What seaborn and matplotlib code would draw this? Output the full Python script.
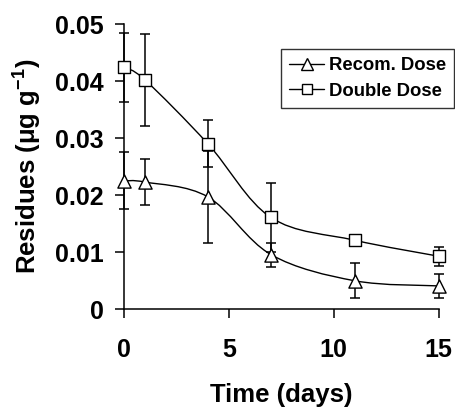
import numpy as np
import pandas as pd
import matplotlib
matplotlib.use("Agg")
import matplotlib.pyplot as plt
from matplotlib.path import Path
from matplotlib.patches import PathPatch
from matplotlib.lines import Line2D
import seaborn as sns

# ---- data ----
days = [0, 1, 4, 7, 11, 15]
recom_values = [0.0225, 0.0223, 0.0197, 0.0096, 0.0050, 0.0041]
recom_err = [0.0050, 0.0041, 0.0080, 0.0021, 0.0031, 0.0021]
double_values = [0.0424, 0.0402, 0.0290, 0.0161, 0.0121, 0.0093]
double_err = [0.0061, 0.0081, 0.0041, 0.0060, 0.0000, 0.0017]
series_names = ["Recom. Dose", "Double Dose"]
x_ticks = [0, 5, 10, 15]
y_ticks = [0, 0.01, 0.02, 0.03, 0.04, 0.05]
y_tick_labels = ["0", "0.01", "0.02", "0.03", "0.04", "0.05"]

sns.set_style("ticks")
plt.rcParams["font.family"] = ["Liberation Sans", "DejaVu Sans"]
plt.rcParams["font.weight"] = "bold"
plt.rcParams["text.color"] = "black"
plt.rcParams["axes.labelcolor"] = "black"
plt.rcParams["mathtext.fontset"] = "custom"
plt.rcParams["mathtext.rm"] = "Liberation Sans:bold"
plt.rcParams["mathtext.it"] = "Liberation Sans:bold"
plt.rcParams["mathtext.bf"] = "Liberation Sans:bold"

fig = plt.figure(figsize=(4.56, 4.09), dpi=100)
W, H = 456, 409
ax = fig.add_axes([124 / W, 1 - 309.3 / H, (438.7 - 124) / W, (309.3 - 24) / H])

df = pd.DataFrame({
    "day": days * 2,
    "value": recom_values + double_values,
    "err": recom_err + double_err,
    "series": [series_names[0]] * len(days) + [series_names[1]] * len(days),
})

markers = {series_names[0]: "^", series_names[1]: "s"}
msize = {series_names[0]: 9.5, series_names[1]: 8.0}


def smooth_path(xs, ys):
    pts = np.column_stack([xs, ys]).astype(float)
    verts = [pts[0]]
    codes = [Path.MOVETO]
    n = len(pts)
    for i in range(n - 1):
        p0 = pts[i - 1] if i > 0 else pts[i]
        p1 = pts[i]
        p2 = pts[i + 1]
        p3 = pts[i + 2] if i + 2 < n else pts[i + 1]
        c1 = p1 + (p2 - p0) / 6.0
        c2 = p2 - (p3 - p1) / 6.0
        verts += [c1, c2, p2]
        codes += [Path.CURVE4] * 3
    return Path(verts, codes)


for name in series_names:
    sub = df[df["series"] == name]
    patch = PathPatch(smooth_path(sub["day"], sub["value"]), facecolor="none",
                      edgecolor="black", lw=1.0, transform=ax.transData,
                      clip_on=False, zorder=2)
    ax.add_patch(patch)
    mask = sub["err"] > 0
    ax.errorbar(sub["day"][mask], sub["value"][mask], yerr=sub["err"][mask],
                fmt="none", ecolor="black", elinewidth=1.1, capsize=3.3,
                capthick=1.1, clip_on=False, zorder=3)

for name in series_names:
    sub = df[df["series"] == name]
    sns.scatterplot(data=sub, x="day", y="value", marker=markers[name],
                    s=msize[name] ** 2, color="white", edgecolor="black",
                    linewidth=1.0, ax=ax, clip_on=False, zorder=4, legend=False)

ax.set_xlim(0, 15)
ax.set_ylim(0, 0.05)
ax.set_xticks(x_ticks)
ax.set_xticklabels([str(t) for t in x_ticks])
ax.set_yticks(y_ticks)
ax.set_yticklabels(y_tick_labels)
for s in ["top", "right"]:
    ax.spines[s].set_visible(False)
for s in ["left", "bottom"]:
    ax.spines[s].set_linewidth(1.1)
    ax.spines[s].set_color("black")
ax.tick_params(axis="both", direction="out", length=6.5, width=1.1,
               color="black", labelsize=18, labelcolor="black")
ax.tick_params(axis="x", pad=14)
ax.tick_params(axis="y", pad=8)
ax.set_xlabel("Time (days)", fontsize=18.5, fontweight="bold", labelpad=15.5,
              color="black")
ax.set_ylabel(r"Residues ($\mu$g g$^{-1}$)", fontsize=18.5, fontweight="bold",
              labelpad=8, color="black")
ax.set_facecolor("white")

handles = [Line2D([], [], color="black", lw=1.0, marker=markers[n],
                  markersize=msize[n] * 0.95, markerfacecolor="white",
                  markeredgecolor="black") for n in series_names]
leg = fig.legend(handles, series_names, loc="upper left",
                 bbox_to_anchor=(280.7 / W, 1 - 49 / H),
                 bbox_transform=fig.transFigure, borderaxespad=0,
                 frameon=True, fancybox=False, shadow=False,
                 prop={"weight": "bold", "size": 13.3},
                 handlelength=1.9, handletextpad=0.25, borderpad=0.45,
                 labelspacing=0.45)
leg.get_frame().set_edgecolor("black")
leg.get_frame().set_linewidth(1.0)
for t in leg.get_texts():
    t.set_color("black")

fig.savefig("out.png", dpi=100, facecolor="white")
